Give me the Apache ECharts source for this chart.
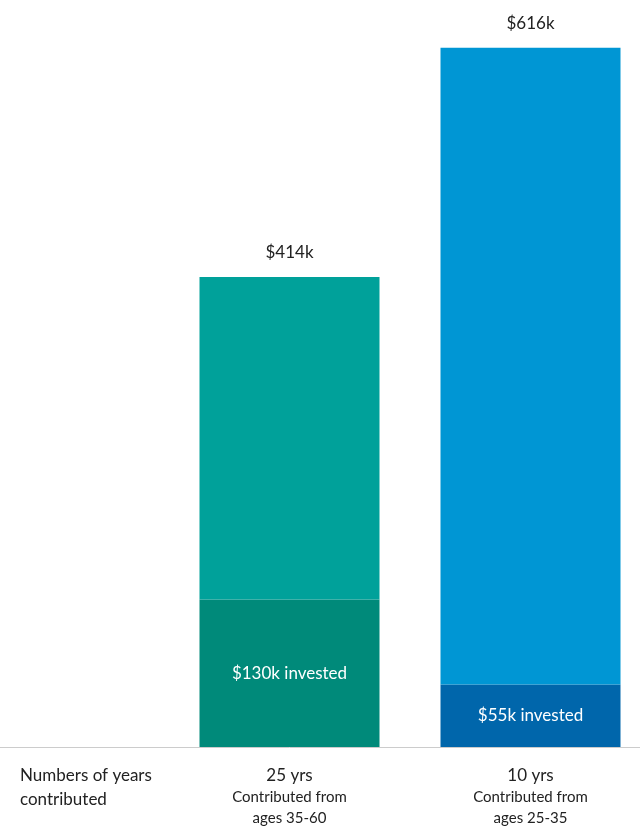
<!DOCTYPE html>
<html>
<head>
<meta charset="utf-8">
<script src="https://cdn.jsdelivr.net/npm/echarts@6/dist/echarts.min.js"></script>
<style>html,body{margin:0;padding:0;background:#fff;overflow:hidden;width:640px;height:840px}#c{position:absolute;left:-72px;top:0;width:723px;height:840px}</style>
</head>
<body>
<div id="c"></div>
<script>
// 数据
var categories = ['', '25 yrs', '10 yrs'];
var subLabels = ['', 'Contributed from\nages 35-60', 'Contributed from\nages 25-35'];
var invested = [null, 130, 55];
var totals = [null, 414, 616];
var growth = totals.map(function (t, i) { return t == null ? null : t - invested[i]; });
var bottomColors = ['#008a7a', '#008a7a', '#0066ab'];
var topColors = ['#00a19a', '#00a19a', '#0096d4'];

var chart = echarts.init(document.getElementById('c'));
chart.setOption({
    animation: false,
    grid: { left: 0, right: 0, top: 0, bottom: 93 },
    xAxis: {
        type: 'category',
        data: categories,
        axisLine: { lineStyle: { color: '#cccccc', width: 1 } },
        axisTick: { show: false },
        axisLabel: {
            margin: 18,
            formatter: function (v, i) {
                return '{a|' + v + '}\n{b|' + subLabels[i] + '}';
            },
            rich: {
                a: { fontSize: 17, color: '#222', lineHeight: 22, fontFamily: 'Lato' },
                b: { fontSize: 15, color: '#222', lineHeight: 21, fontFamily: 'Lato' }
            }
        }
    },
    yAxis: { type: 'value', min: 0, max: 658, show: false, splitLine: { show: false } },
    graphic: [{
        type: 'text', left: 92, top: 764,
        style: { text: 'Numbers of years\ncontributed', fontSize: 17, lineHeight: 24, fill: '#222', fontFamily: 'Lato' }
    }],
    series: [
        {
            type: 'bar', stack: 's', barWidth: 180,
            data: invested.map(function (v, i) { return { value: v, itemStyle: { color: bottomColors[i] } }; }),
            label: {
                show: true, position: 'inside', color: '#fff', fontSize: 17, fontFamily: 'Lato',
                formatter: function (p) { return p.value == null ? '' : '$' + p.value + 'k invested'; }
            }
        },
        {
            type: 'bar', stack: 's', barWidth: 180,
            data: growth.map(function (v, i) { return { value: v, itemStyle: { color: topColors[i] } }; }),
            label: {
                show: true, position: 'top', distance: 16, color: '#222', fontSize: 17, fontFamily: 'Lato',
                formatter: function (p) { return p.value == null ? '' : '$' + totals[p.dataIndex] + 'k'; }
            }
        }
    ]
});
</script>
</body>
</html>
